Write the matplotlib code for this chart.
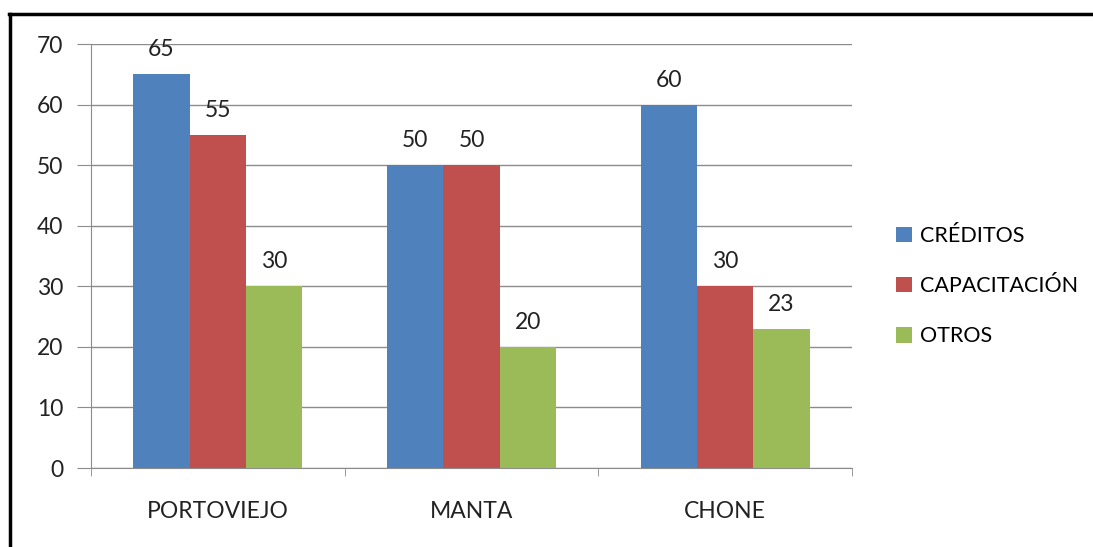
import numpy as np
import matplotlib.pyplot as plt
from matplotlib.lines import Line2D

plt.rcParams['font.family'] = ['Lato', 'DejaVu Sans']

ciudades = ['PORTOVIEJO', 'MANTA', 'CHONE']
series = ['CRÉDITOS', 'CAPACITACIÓN', 'OTROS']
creditos = [65, 50, 60]
capacitacion = [55, 50, 30]
otros = [30, 20, 23]
colores = ['#4F81BD', '#C0504D', '#9BBB59']

fig = plt.figure(figsize=(10.93, 5.47), dpi=100)
ax = fig.add_axes([0.0833, 0.1444, 0.6962, 0.7751])

index = np.arange(len(ciudades))
ancho = 1 / 4.5
valores = [creditos, capacitacion, otros]
for k, (nombre, vals) in enumerate(zip(series, valores)):
    pos = index + (k - 1) * ancho
    ax.bar(pos, vals, ancho, color=colores[k], label=nombre, zorder=3)
    for x, v in zip(pos, vals):
        ax.annotate(str(v), (x, v), xytext=(0, 10), textcoords='offset points',
                    ha='center', va='bottom', fontsize=16.5, color='#222222')

ax.set_xlim(-0.5, 2.5)
ax.set_ylim(0, 70)
ax.set_yticks(range(0, 71, 10))
ax.yaxis.grid(True, color='#8c8c8c', lw=1, zorder=0)
ax.set_xticks(index)
ax.set_xticklabels(ciudades)
ax.set_xticks([-0.5, 0.5, 1.5, 2.5], minor=True)
ax.tick_params(axis='x', which='major', length=0, labelsize=16.5, pad=24, colors='#222222')
ax.tick_params(axis='x', which='minor', length=6, color='#8c8c8c', direction='out')
ax.tick_params(axis='y', length=10, color='#8c8c8c', labelsize=16.5, pad=10, labelcolor='#222222')
for s in ['top', 'right']:
    ax.spines[s].set_visible(False)
ax.spines['left'].set_color('#8c8c8c')
ax.spines['bottom'].set_color('#8c8c8c')

fig.legend(loc='center left', bbox_to_anchor=(0.81, 0.477), frameon=False,
           fontsize=15.5, handlelength=0.75, handleheight=0.75, handletextpad=0.35,
           labelspacing=1.4, borderpad=0)

# marco del grafico
fig.add_artist(Line2D([0.009, 0.009], [0, 0.975], color='black', lw=2.5, transform=fig.transFigure))
fig.add_artist(Line2D([0.0078, 1.0], [0.974, 0.974], color='black', lw=2.5, transform=fig.transFigure))

fig.savefig('out.png', dpi=100)
